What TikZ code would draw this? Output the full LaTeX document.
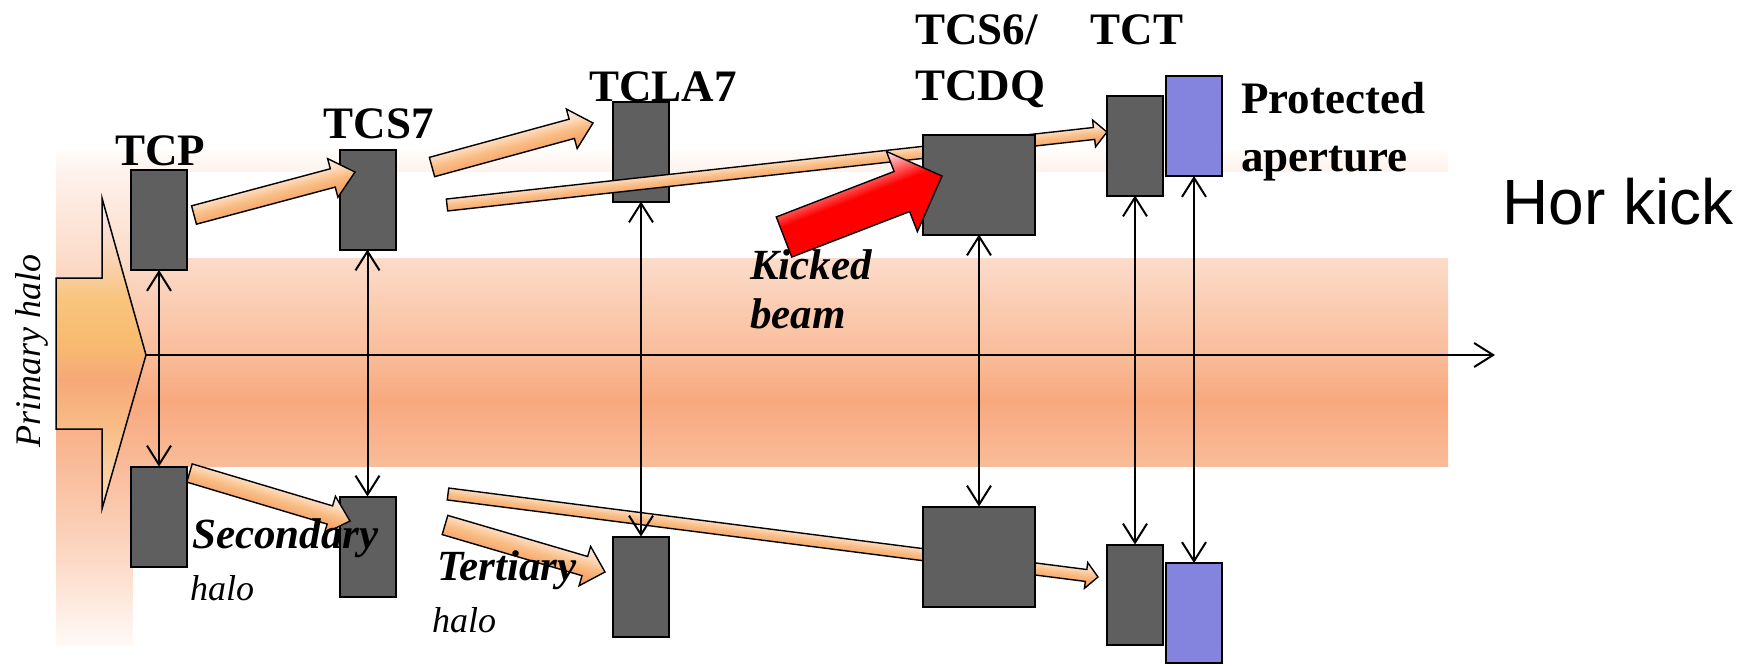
\documentclass[tikz,border=0pt]{standalone}
\usepackage{fontspec}
\setmainfont{Liberation Serif}
\newfontfamily\hkfont{Liberation Sans}
\usetikzlibrary{arrows.meta,calc}

\definecolor{boxgray}{HTML}{5F5F5F}
\definecolor{boxblue}{HTML}{8484DE}
\definecolor{bgA}{HTML}{FFFCFA}
\definecolor{bgB}{HTML}{FEF2EC}
\definecolor{bgC}{HTML}{FCDCCA}
\definecolor{bgD}{HTML}{F9BC9A}
\definecolor{bgE}{HTML}{F8A87D}
\definecolor{bgF}{HTML}{F9BC9A}
\definecolor{bgG}{HTML}{FCD9C6}
\definecolor{bgH}{HTML}{FFFAF7}
\definecolor{haA}{HTML}{FCEAF5}
\definecolor{haB}{HTML}{FAD7C0}
\definecolor{haC}{HTML}{F8C47C}
\definecolor{haD}{HTML}{F8BC70}
\definecolor{haE}{HTML}{F6A878}
\definecolor{haF}{HTML}{F8BE88}
\definecolor{haG}{HTML}{FBE0B8}
\definecolor{oaA}{HTML}{FEEEF2}
\definecolor{oaB}{HTML}{FCD8B8}
\definecolor{oaC}{HTML}{F9BE86}
\definecolor{oaD}{HTML}{F6A86E}
\definecolor{oaE}{HTML}{F59E66}
\definecolor{rdA}{HTML}{FFF0F4}
\definecolor{rdB}{HTML}{FF7070}

\pgfdeclareverticalshading{halobg}{100bp}{color(0bp)=(bgH); color(25bp)=(bgH); color(33.6bp)=(bgG); color(43bp)=(bgF); color(49.7bp)=(bgE); color(54.3bp)=(bgD); color(64.1bp)=(bgC); color(72.8bp)=(bgB); color(75bp)=(bgA); color(100bp)=(bgA)}
\pgfdeclareverticalshading{haloarrow}{100bp}{color(0bp)=(haG); color(25bp)=(haG); color(37.7bp)=(haF); color(45.7bp)=(haE); color(52.2bp)=(haD); color(58.6bp)=(haC); color(66.6bp)=(haB); color(75bp)=(haA); color(100bp)=(haA)}
\pgfdeclareverticalshading{orsh}{100bp}{color(0bp)=(oaE); color(25bp)=(oaE); color(38bp)=(oaD); color(50bp)=(oaC); color(60bp)=(oaB); color(75bp)=(oaA); color(100bp)=(oaA)}
\pgfdeclareverticalshading{redsh}{100bp}{color(0bp)=(red); color(25bp)=(red); color(56bp)=(red); color(65bp)=(rdB); color(75bp)=(rdA); color(100bp)=(rdA)}

% block arrow: style, name (coordinates <name>t = tail, <name>p = tip), half shaft, half head, head length
\newcommand\blkarrow[5]{%
  \path let \p1=($(#2p)-(#2t)$) in \pgfextra{\pgfmathparse{atan2(\y1,\x1)}\xdef\baang{\pgfmathresult}\pgfmathparse{veclen(\x1,\y1)}\xdef\balen{\pgfmathresult}};
  \begin{scope}[transform canvas={shift={(#2t)},rotate=\baang}]
  \path[#1] (0,-#3) -- ({\balen-#5},-#3) -- ({\balen-#5},-#4) -- (\balen,0) -- ({\balen-#5},#4) -- ({\balen-#5},#3) -- (0,#3) -- cycle;
  \end{scope}}

\newcommand\lblfont{\fontsize{45pt}{50pt}\selectfont\bfseries}
\newcommand\bifont{\fontsize{43pt}{48pt}\selectfont\bfseries\itshape}
\newcommand\itfont{\fontsize{36pt}{40pt}\selectfont\itshape}

\begin{document}
\begin{tikzpicture}[x=1pt,y=-1pt,
  box/.style={draw=black, line width=2pt, fill=boxgray, minimum width=56pt, minimum height=100pt, inner sep=0pt, outer sep=0pt},
  bluebox/.style={box, fill=boxblue},
  widebox/.style={box, minimum width=112pt},
  dbl/.style={line width=2pt, {Straight Barb[length=19pt,width=24pt,line width=2pt]}-{Straight Barb[length=19pt,width=24pt,line width=2pt]}},
  axisline/.style={line width=2pt, -{Straight Barb[length=19pt,width=24pt,line width=2pt]}},
  oarrow/.style={draw=black, line width=1.4pt, shade, shading=orsh},
  rarrow/.style={draw=black, line width=1.4pt, shade, shading=redsh},
  lbl/.style={font=\lblfont, inner sep=0pt},
  bi/.style={font=\bifont, inner sep=0pt},
  it/.style={font=\itfont, inner sep=0pt},
  hk/.style={font=\hkfont\fontsize{64pt}{70pt}\selectfont, inner sep=0pt}]
\useasboundingbox (0,0) rectangle (1745,665);

% background halo
\path[shade, shading=halobg] (56,150) rectangle (1448,645);
\fill[white] (133,172) rectangle (1450,258);
\fill[white] (133,467) rectangle (1450,646);

% primary halo arrow
\path[draw=black, line width=1.5pt, shade, shading=haloarrow] (56,278) -- (102,278) -- (102,198) -- (146,355) -- (102,509) -- (102,429) -- (56,429) -- cycle;
\coordinate (htip) at (146,355);

% collimators
\node[box] (tcpU) at (159,220) {};
\node[box] (tcpL) at (159,516.5) {};
\node[box] (tcsU) at (367.5,199.5) {};
\node[box] (tcsL) at (367.5,546.5) {};
\node[box] (tclaU) at (641,151.5) {};
\node[box] (tclaL) at (641,586.5) {};
\node[box] (tctU) at (1135,145.5) {};
\node[box] (tctL) at (1135,594.5) {};
\node[bluebox] (apU) at (1194,126) {};
\node[bluebox] (apL) at (1194,613) {};

% halo arrows
\coordinate (aat) at (194,215); \coordinate (aap) at (355,172);
\blkarrow{oarrow}{aa}{9.5}{20}{23}
\coordinate (abt) at (189.5,473); \coordinate (abp) at (350,521);
\blkarrow{oarrow}{ab}{9.5}{19.5}{21}
\coordinate (act) at (432,167); \coordinate (acp) at (593,123);
\blkarrow{oarrow}{ac}{10}{20.5}{22}
\coordinate (adt) at (447,205); \coordinate (adp) at (1107,132);
\blkarrow{oarrow}{ad}{6}{13.5}{13}
\coordinate (aet) at (448,494); \coordinate (aep) at (1098,577);
\blkarrow{oarrow}{ae}{6}{13}{12}
\coordinate (aft) at (445,525); \coordinate (afp) at (605,572);
\blkarrow{oarrow}{af}{10}{20.5}{21}

% TCDQ
\node[widebox] (tcdqU) at (979,184.5) {};
\node[widebox] (tcdqL) at (979,556.5) {};

% kicked beam
\coordinate (agt) at (784,237); \coordinate (agp) at (942,176);
\blkarrow{rarrow}{ag}{21.5}{43}{43}

% apertures
\draw[dbl] (tcpU.south) -- (tcpL.north);
\draw[dbl] (tcsU.south) -- (tcsL.north);
\draw[dbl] (tclaU.south) -- (tclaL.north);
\draw[dbl] (tcdqU.south) -- (tcdqL.north);
\draw[dbl] (tctU.south) -- (tctL.north);
\draw[dbl] (apU.south) -- (apL.north);

% axis
\coordinate (axend) at (1495,355);
\draw[axisline] (htip) -- (axend);

% labels
\node[lbl, anchor=base] (tTCP) at (160,165) {TCP};
\node[lbl, anchor=base] (tTCS7) at (379,138) {TCS7};
\node[lbl, anchor=base] (tTCLA) at (663,101) {TCLA7};
\node[lbl, anchor=base west] (tTCS6) at (915,44) {TCS6/};
\node[lbl, anchor=base west] (tTCDQ) at (915,100) {TCDQ};
\node[lbl, anchor=base] (tTCT) at (1137,44) {TCT};
\node[lbl, anchor=base west] (tProt) at (1241,113) {Protected};
\node[lbl, anchor=base west] (tApt) at (1241,171) {aperture};
\node[hk, anchor=base west] (tHor) at (1502,224) {Hor kick};
\node[bi, anchor=base west] (tKick) at (750,279) {Kicked};
\node[bi, anchor=base west] (tBeam) at (750,328) {beam};
\node[bi, anchor=base west] (tSec) at (192,548) {Secondary};
\node[it, anchor=base west] (tSecH) at (190,600) {halo};
\node[bi, anchor=base west] (tTer) at (437,580) {Tertiary};
\node[it, anchor=base west] (tTerH) at (432,632) {halo};
\node[it, rotate=90] (tPrim) at (32,351) {Primary halo};
\end{tikzpicture}
\end{document}
